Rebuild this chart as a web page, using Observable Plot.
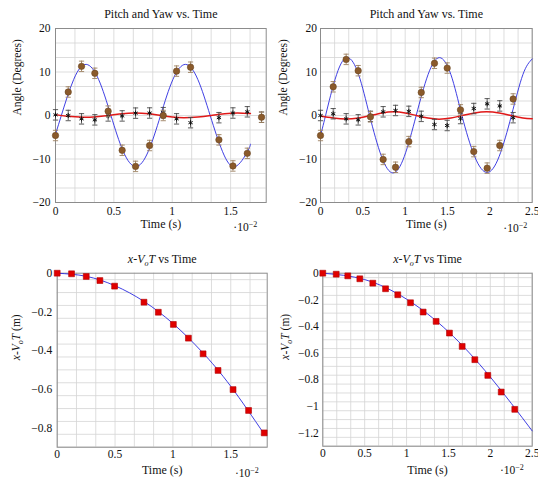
<!DOCTYPE html>
<html><head><meta charset="utf-8">
<script src="https://cdn.jsdelivr.net/npm/d3@7"></script>
<script src="https://cdn.jsdelivr.net/npm/@observablehq/plot@0.6"></script>
<style>
body{margin:0;background:#fff;}
#wrap{position:relative;width:538px;height:481px;overflow:hidden;}
.panel{position:absolute;}
.panel svg text{font-family:'Liberation Serif','DejaVu Serif',serif;}
</style></head><body><div id="wrap"></div>
<script>
// ---------- Top-left: Pitch and Yaw vs. Time ----------
const tlTime  = [0, 0.109, 0.223, 0.337, 0.451, 0.571, 0.686, 0.806, 0.923, 1.037, 1.157, 1.40, 1.52, 1.643, 1.765];
const tlPitch = [-4.6, 5.4, 11.3, 9.7, 1.0, -8.0, -11.7, -6.9, 0, 10.2, 11.1, -5.6, -11.6, -8.7, -0.4];
const tlYaw   = [0.15, 0, -0.77, -1.0, -0.1, -0.1, 0.54, 0.57, 0.65, -0.77, -1.65, -0.5, 0.57, 0.85, -0.4];
const tlPitchFitT = [0, 0.05, 0.156, 0.263, 0.369, 0.475, 0.581, 0.688, 0.794, 0.9, 1.006, 1.113, 1.219, 1.325, 1.431, 1.538, 1.644, 1.67];
const tlPitchFitV = [-4.3, 0, 8.3, 11.75, 8.3, 0, -8.3, -11.75, -8.3, 0, 8.3, 11.75, 8.3, 0, -8.3, -11.75, -8.3, -6.6];
const tlYawFitT = [0, 0.1, 0.24, 0.35, 0.46, 0.57, 0.68, 0.8, 0.91, 1.0, 1.1, 1.22, 1.33, 1.45, 1.56, 1.67];
const tlYawFitV = [0.2, -0.2, -0.4, -0.28, 0, 0.42, 0.6, 0.42, 0, -0.35, -0.5, -0.35, 0, 0.42, 0.6, 0.45];

// ---------- Top-right: Pitch and Yaw vs. Time ----------
const trTime  = [0, 0.15, 0.303, 0.445, 0.59, 0.74, 0.886, 1.043, 1.19, 1.346, 1.496, 1.653, 1.81, 1.968, 2.117, 2.275];
const trPitch = [-4.6, 6.6, 12.9, 10.3, -0.3, -10.1, -11.9, -6.0, 5.3, 12.0, 10.9, 1.3, -8.3, -12.1, -6.9, 3.8];
const trYaw   = [0, 0.4, -0.77, -1.0, -0.2, 0.85, 1.15, 0.95, -0.2, -2.07, -2.3, -0.7, 1.6, 2.68, 2.2, -0.5];
const trPitchFitT = [0, 0.06, 0.19, 0.32, 0.45, 0.58, 0.72, 0.856, 0.99, 1.13, 1.27, 1.405, 1.54, 1.67, 1.82, 1.968, 2.11, 2.255, 2.39, 2.5];
const trPitchFitV = [-4.6, 0, 9.4, 13.3, 9.4, 0, -9.4, -13.2, -9.4, 0, 9.4, 13.3, 9.4, 0, -9.4, -13.1, -9.4, 0, 9.4, 13.0];
const trYawFitT = [0, 0.15, 0.3, 0.45, 0.59, 0.73, 0.86, 1.0, 1.13, 1.27, 1.4, 1.54, 1.67, 1.82, 1.96, 2.11, 2.25, 2.39, 2.5];
const trYawFitV = [-0.1, -0.55, -0.8, -0.55, 0, 0.6, 0.85, 0.6, 0, -0.6, -0.85, -0.6, 0, 0.6, 0.85, 0.6, 0, -0.55, -0.75];

// error bar half-widths (degrees)
const pitchErr = 1.2;
const yawErr = 1.2;

// ---------- Bottom-left: x - VoT vs Time ----------
const blTime = [0, 0.124, 0.251, 0.369, 0.496, 0.75, 0.874, 1.004, 1.134, 1.261, 1.39, 1.52, 1.654, 1.789];
const blDisp = [0, -0.003, -0.017, -0.038, -0.067, -0.15, -0.202, -0.265, -0.336, -0.417, -0.503, -0.602, -0.71, -0.826];
const blFitT = [0, 0.25, 0.5, 0.75, 1, 1.25, 1.5, 1.79];
const blFitV = [0, -0.016, -0.065, -0.146, -0.26, -0.406, -0.585, -0.833];

// ---------- Bottom-right: x - VoT vs Time ----------
const brTime = [0, 0.16, 0.298, 0.442, 0.597, 0.749, 0.895, 1.047, 1.198, 1.353, 1.512, 1.664, 1.815, 1.97, 2.13, 2.292];
const brDisp = [0, -0.0075, -0.02, -0.042, -0.075, -0.117, -0.162, -0.222, -0.292, -0.362, -0.45, -0.55, -0.65, -0.768, -0.893, -1.023];
const brFitT = [0, 0.5, 1, 1.5, 2, 2.5];
const brFitV = [0, -0.048, -0.195, -0.44, -0.78, -1.185];

// tick labels
const angleTicks = [-20, -10, 0, 10, 20];
const tlTimeTicks = [0, 0.5, 1, 1.5];
const trTimeTicks = [0, 0.5, 1, 1.5, 2, 2.5];
const blDispTicks = [0, -0.2, -0.4, -0.6, -0.8];
const brDispTicks = [0, -0.2, -0.4, -0.6, -0.8, -1, -1.2];

const pitchTitle = "Pitch and Yaw vs. Time";
const dispTitle = "x-VoT vs Time";
const angleLabel = "Angle (Degrees)";
const dispLabel = "x-VoT (m)";
const timeLabel = "Time (s)";
const expoLabel = "·10-2";

// ---------- helpers ----------
const FONT = "'Liberation Serif', 'DejaVu Serif', serif";
const zip = (xs, ys) => xs.map((x, i) => ({x, y: ys[i]}));
const capSymbol = {draw(ctx, size) { const w = Math.sqrt(size / Math.PI); ctx.moveTo(-w, 0); ctx.lineTo(w, 0); }};
const fmt = d3.format("~g");

function errMarks(pts, err, color) {
  return [
    Plot.ruleX(pts, {x: "x", y1: d => d.y - err, y2: d => d.y + err, stroke: color, strokeWidth: 0.9}),
    Plot.dot(pts, {x: "x", y: d => d.y + err, symbol: capSymbol, r: 2.6, stroke: color, strokeWidth: 0.9, fill: "none"}),
    Plot.dot(pts, {x: "x", y: d => d.y - err, symbol: capSymbol, r: 2.6, stroke: color, strokeWidth: 0.9, fill: "none"})
  ];
}

function angleMarks(time, pitch, yaw, pfT, pfV, yfT, yfV) {
  const p = zip(time, pitch), yw = zip(time, yaw);
  return [
    Plot.line(zip(pfT, pfV), {x: "x", y: "y", curve: "natural", stroke: "#2a2ae0", strokeWidth: 0.9}),
    Plot.line(zip(yfT, yfV), {x: "x", y: "y", curve: "natural", stroke: "#e01818", strokeWidth: 1.5}),
    ...errMarks(yw, yawErr, "#4a4a4a"),
    Plot.dot(yw, {x: "x", y: "y", symbol: "asterisk", r: 2.3, stroke: "#111", strokeWidth: 1}),
    ...errMarks(p, pitchErr, "#9c8060"),
    Plot.dot(p, {x: "x", y: "y", r: 3.2, fill: "#8a5a2b", stroke: "#6a4420", strokeWidth: 0.6})
  ];
}

function dispMarks(time, disp, fT, fV) {
  return [
    Plot.line(zip(fT, fV), {x: "x", y: "y", curve: "natural", stroke: "#2a2ae0", strokeWidth: 0.9}),
    Plot.dot(zip(time, disp), {x: "x", y: "y", symbol: "square", r: 3.3, fill: "#e00000", stroke: "#b00000", strokeWidth: 0.6})
  ];
}

function richText(svg) {
  d3.select(svg).selectAll("text").each(function() {
    const t = this.textContent;
    const sel = d3.select(this);
    if (t === dispTitle || t === dispLabel) {
      const rest = t === dispTitle ? " vs Time" : " (m)";
      sel.text(null);
      sel.append("tspan").attr("font-style", "italic").text("x");
      sel.append("tspan").text("-");
      sel.append("tspan").attr("font-style", "italic").text("V");
      sel.append("tspan").attr("font-style", "italic").attr("font-size", "8px").attr("dy", "3").text("o");
      sel.append("tspan").attr("font-style", "italic").attr("dy", "-3").text("T");
      sel.append("tspan").text(rest);
    } else if (t === expoLabel) {
      sel.text(null);
      sel.append("tspan").text("·10");
      sel.append("tspan").attr("font-size", "8px").attr("dy", "-4.5").text("−2");
    }
  });
}

function panel(c) {
  const xMinor = d3.range(0, c.xd[1] + 1e-9, 0.5 / 3);
  const yMinor = d3.range(c.yd[0], c.yd[1] + 1e-9, c.yStep / 3);
  const svg = Plot.plot({
    width: c.w, height: c.h,
    marginLeft: c.ml, marginRight: c.mr, marginTop: c.mt, marginBottom: c.mb,
    x: {domain: c.xd}, y: {domain: c.yd},
    style: {fontFamily: FONT, fontSize: "11.5px", background: "white", overflow: "visible", color: "#111"},
    marks: [
      Plot.gridX(xMinor, {stroke: "#d4d4d4", strokeOpacity: 1, strokeWidth: 0.8}),
      Plot.gridY(yMinor, {stroke: "#d4d4d4", strokeOpacity: 1, strokeWidth: 0.8}),
      Plot.frame({stroke: "#8c8c8c", strokeWidth: 1}),
      ...c.marks,
      Plot.axisX(c.xt, {tickSize: 0, tickPadding: c.xtp, tickFormat: fmt, label: null, fontSize: 11.5, fontFamily: FONT}),
      Plot.axisY(c.yt, {tickSize: 0, tickPadding: c.ytp, tickFormat: fmt, label: null, fontSize: 11.5, fontFamily: FONT}),
      Plot.text([c.title], {frameAnchor: "top", dy: c.tdy, lineAnchor: "middle", fontSize: 12, fontFamily: FONT}),
      Plot.text([timeLabel], {frameAnchor: "bottom", dy: c.xldy, lineAnchor: "middle", fontSize: 12, fontFamily: FONT}),
      Plot.text([expoLabel], {frameAnchor: "bottom-right", dx: c.edx, dy: c.edy, textAnchor: "end", lineAnchor: "middle", fontSize: 11.5, fontFamily: FONT}),
      Plot.text([c.ylabel], {frameAnchor: "left", dx: c.ydx, rotate: -90, lineAnchor: "middle", fontSize: 11.5, fontFamily: FONT})
    ]
  });
  richText(svg);
  const div = document.createElement("div");
  div.className = "panel";
  div.style.left = c.left + "px";
  div.style.top = c.top + "px";
  div.appendChild(svg);
  document.getElementById("wrap").appendChild(div);
}

panel({left: 0, top: 0, w: 269, h: 240, ml: 55, mr: 3.3, mt: 28, mb: 38,
  xd: [0, 1.805], yd: [-20, 20], yStep: 10, xt: tlTimeTicks, yt: angleTicks,
  xtp: 4, ytp: 5, tdy: -14, xldy: 22, edx: -9, edy: 25, ydx: -37.7,
  title: pitchTitle, ylabel: angleLabel,
  marks: angleMarks(tlTime, tlPitch, tlYaw, tlPitchFitT, tlPitchFitV, tlYawFitT, tlYawFitV)});

panel({left: 270, top: 0, w: 268, h: 240, ml: 50, mr: 6.3, mt: 28, mb: 38,
  xd: [0, 2.5], yd: [-20, 20], yStep: 10, xt: trTimeTicks, yt: angleTicks,
  xtp: 4, ytp: 3.5, tdy: -14, xldy: 22, edx: -5, edy: 26, ydx: -36.7,
  title: pitchTitle, ylabel: angleLabel,
  marks: angleMarks(trTime, trPitch, trYaw, trPitchFitT, trPitchFitV, trYawFitT, trYawFitV)});

panel({left: 0, top: 240, w: 269, h: 241, ml: 56.7, mr: 2.3, mt: 32.7, mb: 34.3,
  xd: [0, 1.815], yd: [-0.9, 0], yStep: 0.2, xt: tlTimeTicks, yt: blDispTicks,
  xtp: 3, ytp: 5, tdy: -14.4, xldy: 23.3, edx: -8.4, edy: 26.6, ydx: -40.7,
  title: dispTitle, ylabel: dispLabel,
  marks: dispMarks(blTime, blDisp, blFitT, blFitV)});

panel({left: 270, top: 240, w: 268, h: 241, ml: 52.3, mr: 6.3, mt: 32.7, mb: 35.3,
  xd: [0, 2.5], yd: [-1.3, 0], yStep: 0.2, xt: trTimeTicks, yt: brDispTicks,
  xtp: 2.5, ytp: 4, tdy: -14.4, xldy: 24.3, edx: -8.4, edy: 24.3, ydx: -37.3,
  title: dispTitle, ylabel: dispLabel,
  marks: dispMarks(brTime, brDisp, brFitT, brFitV)});
</script>
</body></html>
